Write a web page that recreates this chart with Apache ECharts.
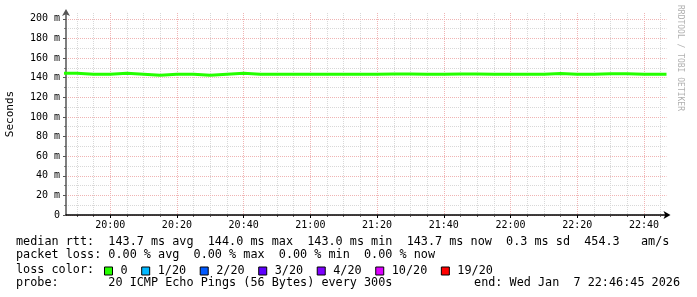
<!DOCTYPE html>
<html><head><meta charset="utf-8">
<script src="https://cdn.jsdelivr.net/npm/echarts@6/dist/echarts.min.js"></script>
<style>html,body{margin:0;padding:0;background:#fff}#c{width:697px;height:297px}</style>
</head><body><div id="c"></div>
<script>
// ---- data ----
const intervalStart = ['19:45','19:50','19:55','20:00','20:05','20:10','20:15','20:20','20:25','20:30',
  '20:35','20:40','20:45','20:50','20:55','21:00','21:05','21:10','21:15','21:20',
  '21:25','21:30','21:35','21:40','21:45','21:50','21:55','22:00','22:05','22:10',
  '22:15','22:20','22:25','22:30','22:35','22:40','22:45'];
const medianMs = [144.6,143.6,143.6,144.6,143.6,142.6,143.6,143.6,142.6,143.6,
  144.6,143.6,143.6,143.6,143.6,143.6,143.6,143.6,143.6,143.9,
  143.9,143.6,143.6,143.7,143.7,143.6,143.6,143.5,143.5,144.2,
  143.5,143.5,144.0,144.0,143.5,143.5,143.5];
const smokeLowMs = [144.2,143.2,143.2,144.2,143.2,142.2,143.2,143.2,142.2,143.2,
  144.2,143.2,143.2,143.2,143.2,143.2,143.2,143.2,143.2,143.5,
  143.5,143.2,143.2,143.3,143.3,143.2,143.2,143.1,143.1,143.8,
  143.1,143.1,143.6,143.6,143.1,143.1,143.1];
const smokeHighMs = [145.0,144.0,144.0,145.0,144.0,143.0,144.0,144.0,143.0,144.0,
  145.0,145.1,144.0,144.0,144.0,144.0,144.0,144.0,144.0,144.3,
  144.3,144.0,144.0,144.1,144.1,144.0,145.9,143.9,143.9,144.6,
  143.9,143.9,145.4,145.4,143.9,143.9,143.9];
const graphStart = '19:46:45';
const graphEnd = '22:46:45';
const xMajorTicks = ['20:00','20:20','20:40','21:00','21:20','21:40','22:00','22:20','22:40'];
const yMajorTicks = [0,20,40,60,80,100,120,140,160,180,200];
const yMinorTicks = [10,30,50,70,90,110,130,150,170,190];
const lossNames = ['0','1/20','2/20','3/20','4/20','10/20','19/20'];
const lossColors = ['#26ff00','#00b8ff','#0059ff','#5e00ff','#7e00ff','#dd00ff','#ff0000'];
const rttLine = 'median rtt:  143.7 ms avg  144.0 ms max  143.0 ms min  143.7 ms now  0.3 ms sd  454.3   am/s';
const lossLine = 'packet loss: 0.00 % avg  0.00 % max  0.00 % min  0.00 % now';
const probeLine = 'probe:       20 ICMP Echo Pings (56 Bytes) every 300s';
const endLine = 'end: Wed Jan  7 22:46:45 2026';

// ---- helpers ----
const toMin = s => { const p = s.split(':').map(Number); return p[0]*60 + p[1] + (p[2]||0)/60; };
const fmt = v => { const h = Math.floor(v/60), m = Math.round(v - h*60); return String(h).padStart(2,'0')+':'+String(m).padStart(2,'0'); };
const xMin = toMin(graphStart), xMax = toMin(graphEnd);
const majorX = xMajorTicks.map(toMin);
const minorX = [];
for (let t = toMin('19:50'); t <= xMax; t += 5) if (majorX.indexOf(t) < 0) minorX.push(t);

const xs = intervalStart.map(toMin).concat([xMax]);
const withEnd = arr => arr.concat([arr[arr.length-1]]);
const medianData = xs.map((x,i) => [x, withEnd(medianMs)[i]]);
const smokeBase = xs.map((x,i) => [x, withEnd(smokeLowMs)[i]]);
const smokeBand = xs.map((x,i) => [x, +(withEnd(smokeHighMs)[i] - withEnd(smokeLowMs)[i]).toFixed(2)]);

const MONO = 'DejaVu Sans Mono';
const FONT = '11.8px "DejaVu Sans Mono"';
const majorColor = '#f0b4b4', minorColor = '#d8d8d8';

const chart = echarts.init(document.getElementById('c'), null, {renderer:'canvas'});
chart.setOption({
  animation: false,
  backgroundColor: '#fff',
  grid: {left: 66, right: 30.5, top: 13, bottom: 82, containLabel: false, outerBoundsMode: 'none'},
  xAxis: [{
    type: 'value', min: xMin, max: xMax, position: 'bottom',
    axisLine: {show: true, lineStyle: {color: '#000', width: 1.5}, symbol: ['none','arrow'], symbolSize: [6,7], symbolOffset: [0,4]},
    axisTick: {show: true, customValues: majorX, length: 3, lineStyle: {color: '#000'}},
    axisLabel: {customValues: majorX, formatter: fmt, fontFamily: MONO, fontSize: 10, color: '#000', margin: 5},
    splitLine: {show: true, lineStyle: {color: majorColor, type: [1,1], width: 1}},
    z: 3
  },{
    type: 'value', min: xMin, max: xMax, position: 'bottom',
    axisLine: {show: false},
    axisTick: {show: true, customValues: minorX, length: 2, lineStyle: {color: '#666'}},
    axisLabel: {show: false, customValues: minorX},
    splitLine: {show: true, lineStyle: {color: minorColor, type: [1,1], width: 1}},
    z: 1
  }],
  yAxis: [{
    type: 'value', min: 0, max: 206, interval: 20, position: 'left',
    name: 'Seconds', nameLocation: 'middle', nameRotate: 90, nameGap: 50,
    nameTextStyle: {fontFamily: MONO, fontSize: 11, color: '#000'},
    axisLine: {show: true, lineStyle: {color: '#555', width: 1.5}, symbol: ['none','arrow'], symbolSize: [6,7], symbolOffset: [0,4]},
    axisTick: {show: true, customValues: yMajorTicks, length: 3, lineStyle: {color: '#555'}},
    axisLabel: {customValues: yMajorTicks, formatter: v => v === 0 ? '0' : v + ' m', fontFamily: MONO, fontSize: 10, color: '#000', margin: 6},
    splitLine: {show: true, lineStyle: {color: majorColor, type: [1,1], width: 1}},
    z: 3
  },{
    type: 'value', min: 0, max: 206, interval: 10, position: 'left',
    axisLine: {show: false},
    axisTick: {show: true, customValues: yMinorTicks, length: 2, lineStyle: {color: '#888'}},
    axisLabel: {show: false, customValues: yMinorTicks},
    splitLine: {show: true, lineStyle: {color: minorColor, type: [1,1], width: 1}},
    z: 1
  }],
  legend: {
    data: lossNames, left: 104, top: 265, padding: 0, icon: 'rect',
    itemWidth: 8, itemHeight: 8, itemGap: 13.6, selectedMode: false,
    itemStyle: {borderColor: '#000', borderWidth: 1},
    textStyle: {fontFamily: MONO, fontSize: 11.8, color: '#000', padding: [0,0,0,3]}
  },
  series: [
    {type: 'line', name: 'smoke-base', stack: 'smoke', step: 'end', data: smokeBase, symbol: 'none', silent: true,
      lineStyle: {opacity: 0}, z: 4},
    {type: 'line', name: 'smoke', stack: 'smoke', step: 'end', data: smokeBand, symbol: 'none', silent: true,
      lineStyle: {opacity: 0}, areaStyle: {color: '#d4d4d4', opacity: 1}, z: 4},
    {type: 'line', name: 'median rtt', step: 'end', data: medianData, symbol: 'none', silent: true,
      lineStyle: {color: lossColors[0], width: 3}, z: 5}
  ].concat(lossNames.map((n,i) => ({type: 'bar', name: n, data: [], itemStyle: {color: lossColors[i]}}))),
  graphic: [
    {type: 'text', left: 16, top: 235.5, style: {text: rttLine, font: FONT, fill: '#000'}},
    {type: 'text', left: 16, top: 249.2, style: {text: lossLine, font: FONT, fill: '#000'}},
    {type: 'text', left: 16, top: 264, style: {text: 'loss color:', font: FONT, fill: '#000'}},
    {type: 'text', left: 16, top: 276.7, style: {text: probeLine, font: FONT, fill: '#000'}},
    {type: 'text', right: 17, top: 276.7, style: {text: endLine, font: FONT, fill: '#000'}},
    {type: 'text', x: 684, y: 5, rotation: -Math.PI/2, style: {text: 'RRDTOOL / TOBI OETIKER', font: '8px "DejaVu Sans Mono"', fill: '#b0b0b0', textAlign: 'left', textVerticalAlign: 'top'}}
  ]
});
</script></body></html>
